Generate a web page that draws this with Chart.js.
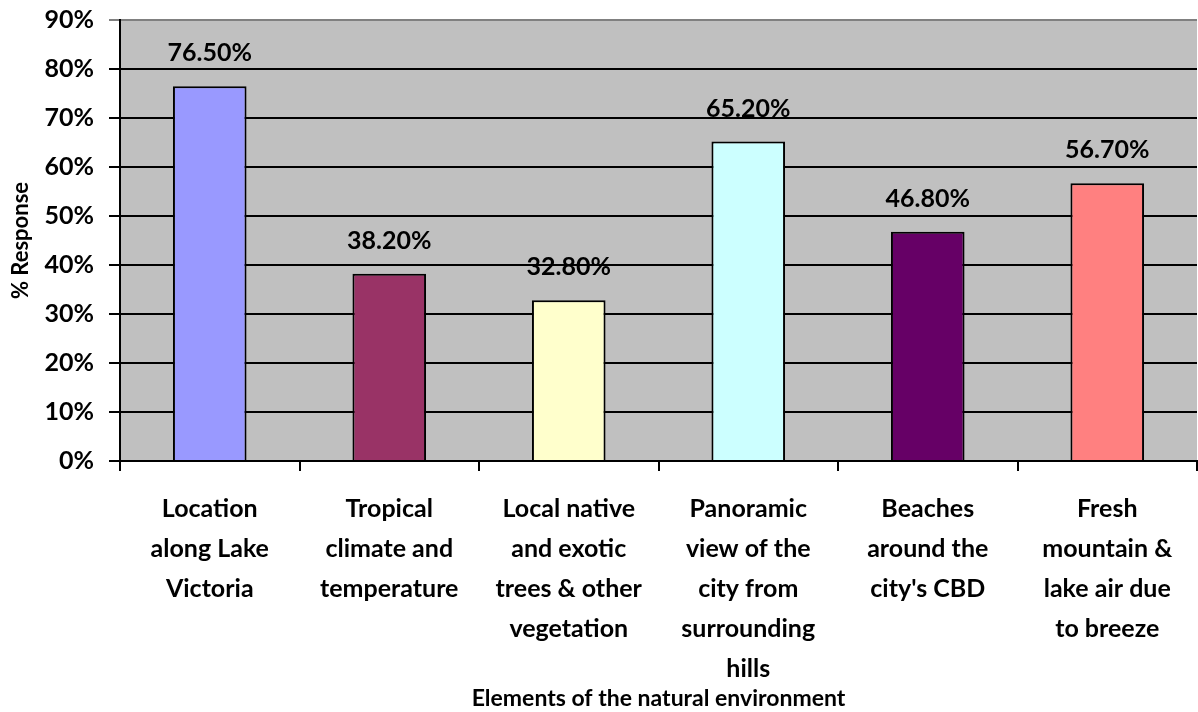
<!DOCTYPE html>
<html>
<head>
<meta charset="utf-8">
<script src="https://cdn.jsdelivr.net/npm/chart.js@4.4.1/dist/chart.umd.min.js"></script>
<style>
  html, body { margin: 0; padding: 0; background: #fff; }
  #chart { display: block; }
</style>
</head>
<body>
<canvas id="chart" width="1198" height="712"></canvas>
<script>
// categories and values
const categories = [
  ['Location', 'along Lake', 'Victoria'],
  ['Tropical', 'climate and', 'temperature'],
  ['Local native', 'and exotic', 'trees & other', 'vegetation'],
  ['Panoramic', 'view of the', 'city from', 'surrounding', 'hills'],
  ['Beaches', 'around the', "city's CBD"],
  ['Fresh', 'mountain &', 'lake air due', 'to breeze']
];
const responses = [76.5, 38.2, 32.8, 65.2, 46.8, 56.7];
const barColors = ['#9999FF', '#993366', '#FFFFCC', '#CCFFFF', '#660066', '#FF8080'];

const FONT = 'Lato, "Liberation Sans", sans-serif';

// draws the value labels above each bar
const valueLabels = {
  id: 'valueLabels',
  afterDatasetsDraw(chart) {
    const ctx = chart.ctx;
    const meta = chart.getDatasetMeta(0);
    ctx.save();
    ctx.font = 'bold 25px ' + FONT;
    ctx.fillStyle = '#000';
    ctx.textAlign = 'center';
    ctx.textBaseline = 'middle';
    meta.data.forEach((bar, i) => {
      ctx.fillText(responses[i].toFixed(2) + '%', bar.x, bar.y - 33);
    });
    ctx.restore();
  }
};

// gray plot background
const plotBg = {
  id: 'plotBg',
  beforeDraw(chart) {
    const { ctx, chartArea: a } = chart;
    ctx.save();
    ctx.fillStyle = '#fff';
    ctx.fillRect(0, 0, chart.width, chart.height);
    ctx.fillStyle = '#C0C0C0';
    ctx.fillRect(a.left, a.top, a.right - a.left, a.bottom - a.top);
    ctx.restore();
  }
};

new Chart(document.getElementById('chart'), {
  type: 'bar',
  data: {
    labels: categories,
    datasets: [{
      data: responses,
      backgroundColor: barColors,
      borderColor: '#000',
      borderWidth: 2,
      categoryPercentage: 1,
      barPercentage: 0.41
    }]
  },
  options: {
    responsive: false,
    animation: false,
    layout: { padding: { top: 20, right: 1, left: 0, bottom: 0 } },
    plugins: {
      legend: { display: false },
      tooltip: { enabled: false }
    },
    scales: {
      x: {
        afterFit(scale) {
          scale.height = 251;
          scale.paddingLeft = 0;
          scale.paddingRight = 0;
        },
        offset: true,
        grid: {
          offset: true,
          drawOnChartArea: false,
          drawTicks: true,
          tickLength: 10,
          color: '#000',
          lineWidth: 2
        },
        border: { color: '#000', width: 2 },
        ticks: {
          color: '#000',
          font: { family: FONT, size: 25, weight: 'bold', lineHeight: 1.6 },
          padding: 18,
          maxRotation: 0,
          autoSkip: false
        },
        title: {
          display: true,
          text: 'Elements of the natural environment',
          color: '#000',
          font: { family: FONT, size: 23, weight: 'bold', lineHeight: 1.2 },
          padding: { top: 0, bottom: 0 }
        }
      },
      y: {
        afterFit(scale) {
          scale.width = 120;
          scale.paddingTop = 0;
          scale.paddingBottom = 0;
        },
        min: 0,
        max: 90,
        grid: {
          color: (c) => c.tick && c.tick.value === 90 ? '#808080' : '#000',
          lineWidth: 2,
          tickLength: 11
        },
        border: { color: '#000', width: 2 },
        ticks: {
          stepSize: 10,
          color: '#000',
          padding: 15,
          font: { family: FONT, size: 25, weight: 'bold' },
          callback: (v) => v + '%'
        },
        title: {
          display: true,
          text: '% Response',
          color: '#000',
          font: { family: FONT, size: 22, weight: 'bold', lineHeight: 1.2 },
          padding: { top: 8, bottom: 0 }
        }
      }
    }
  },
  plugins: [plotBg, valueLabels]
});
</script>
</body>
</html>
